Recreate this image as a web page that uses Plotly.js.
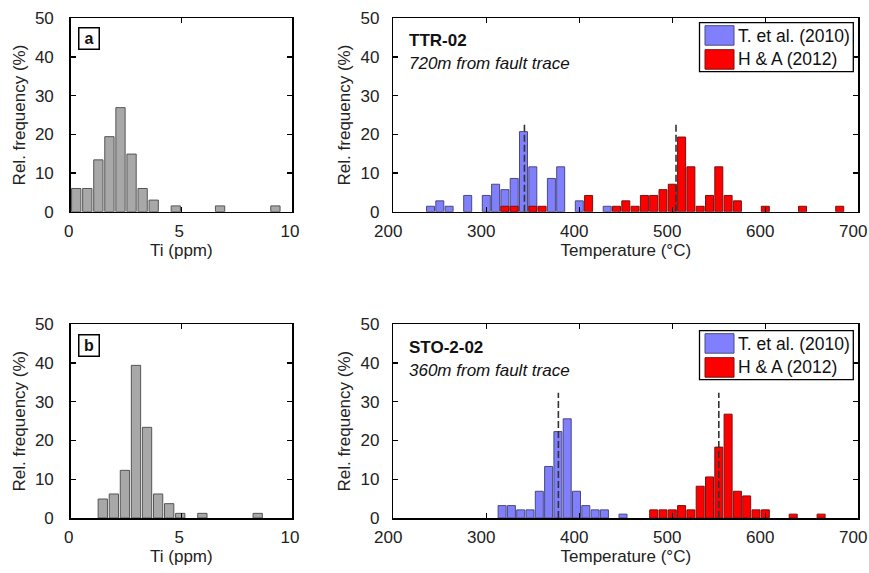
<!DOCTYPE html>
<html><head><meta charset="utf-8">
<script src="https://cdn.plot.ly/plotly-3.0.1.min.js"></script>
<style>html,body{margin:0;padding:0;background:#fff}</style>
</head><body>
<div id="chart" style="width:869px;height:573px"></div>
<script>
// ---- data ----
// panel a (TTR-02): Ti concentration histogram
const tiA_x = [0.25, 0.75, 1.25, 1.75, 2.25, 2.75, 3.25, 3.75, 4.75, 6.75, 9.25];
const tiA_y = [6.0, 6.0, 13.4, 19.4, 26.9, 14.9, 6.0, 3.0, 1.5, 1.5, 1.5];
// panel b (STO-2-02): Ti concentration histogram
const tiB_x = [1.45, 1.95, 2.45, 2.95, 3.45, 3.95, 4.45, 4.95, 5.95, 8.45];
const tiB_y = [4.9, 6.2, 12.3, 39.4, 23.4, 6.2, 3.7, 1.2, 1.2, 1.2];
// TTR-02 temperatures
const ttrT_x = [240, 250, 260, 280, 300, 310, 320, 330, 340, 350, 370, 380, 400, 430];
const ttrT_y = [1.4, 2.8, 1.4, 4.2, 4.2, 7.1, 5.7, 8.6, 20.7, 11.6, 8.6, 11.6, 2.8, 1.4];
const ttrH_x = [320, 330, 350, 360, 410, 440, 450, 460, 470, 480, 490, 500, 510, 520, 530, 540, 550, 560, 570, 600, 640, 680];
const ttrH_y = [1.4, 1.4, 1.4, 1.4, 4.2, 1.4, 2.8, 1.4, 4.2, 4.2, 5.7, 7.1, 19.3, 11.6, 1.4, 4.2, 11.6, 4.2, 2.8, 1.4, 1.4, 1.4];
// STO-2-02 temperatures
const stoT_x = [317, 327, 337, 347, 357, 367, 377, 387, 397, 407, 417, 427, 447];
const stoT_y = [3.2, 3.2, 2.1, 2.1, 6.9, 13.3, 22.3, 25.6, 6.9, 3.2, 2.1, 2.1, 1.0];
const stoH_x = [480, 490, 500, 510, 520, 530, 540, 550, 560, 570, 580, 590, 600, 630, 660];
const stoH_y = [2.1, 2.1, 2.1, 3.2, 2.1, 8.2, 10.6, 18.3, 26.8, 6.9, 5.7, 2.1, 2.1, 1.0, 1.0];
// median markers (x position, top of dashed line in %)
const ttrMed = [341, 504];
const ttrMedTop = 22.6;
const stoMed = [377.5, 550];
const stoMedTop = 32.3;
// text
const seriesNames = ['T. et al. (2010)', 'H & A (2012)'];
const sampleNames = ['TTR-02', 'STO-2-02'];
const distances = ['720m from fault trace', '360m from fault trace'];
const panelLetters = ['a', 'b'];
const yTicks = [0, 10, 20, 30, 40, 50];
const tiTicks = [0, 5, 10];
const tTicks = [200, 300, 400, 500, 600, 700];

// ---- styling ----
const F = 'Liberation Sans, Arial, sans-serif';
const W = 869, H = 573;
const px = v => v / W;
const py = v => 1 - v / H;
const BLUE = '#8080ff', RED = '#ff0000', GRAY = '#a8a8a8';

function bar(x, y, color, line, width, xa, ya, name) {
  return {type: 'bar', x: x, y: y, width: width, xaxis: xa, yaxis: ya, name: name,
    marker: {color: color, line: {color: line, width: 1}}, showlegend: false, hoverinfo: 'x+y'};
}
function med(xv, top, xa, ya) {
  return {type: 'scatter', mode: 'lines', x: [xv, xv], y: [0, top], xaxis: xa, yaxis: ya,
    line: {color: '#333', width: 1.6, dash: '7px,3px'}, showlegend: false, hoverinfo: 'skip'};
}

const data = [
  bar(tiA_x, tiA_y, GRAY, '#555', 0.42, 'x', 'y', 'Ti a'),
  bar(ttrT_x, ttrT_y, BLUE, '#4a4a7a', 8.6, 'x2', 'y2', seriesNames[0]),
  bar(ttrH_x, ttrH_y, RED, '#7a1010', 8.6, 'x2', 'y2', seriesNames[1]),
  med(ttrMed[0], ttrMedTop, 'x2', 'y2'),
  med(ttrMed[1], ttrMedTop, 'x2', 'y2'),
  bar(tiB_x, tiB_y, GRAY, '#555', 0.42, 'x3', 'y3', 'Ti b'),
  bar(stoT_x, stoT_y, BLUE, '#4a4a7a', 8.6, 'x4', 'y4', seriesNames[0]),
  bar(stoH_x, stoH_y, RED, '#7a1010', 8.6, 'x4', 'y4', seriesNames[1]),
  med(stoMed[0], stoMedTop, 'x4', 'y4'),
  med(stoMed[1], stoMedTop, 'x4', 'y4')
];

const base = {showline: true, linecolor: '#000', linewidth: 1.5, mirror: 'allticks',
  ticks: 'inside', ticklen: 5, tickwidth: 1.2, tickcolor: '#000', showgrid: false, zeroline: false,
  tickfont: {family: F, size: 17, color: '#222'}, fixedrange: true, ticklabeloverflow: 'allow'};
function xax(dom, range, ticks, title, anchor, shift) {
  return Object.assign({}, base, {domain: dom, range: range, tickvals: ticks, anchor: anchor,
    ticklabelstandoff: 3, ticklabelshift: shift,
    title: {text: title, font: {family: F, size: 17, color: '#222'}, standoff: 0}});
}
function yax(dom, anchor, so, tso) {
  return Object.assign({}, base, {domain: dom, range: [0, 50], tickvals: yTicks, anchor: anchor,
    ticklabelstandoff: tso,
    title: {text: 'Rel. frequency (%)', font: {family: F, size: 17, color: '#222'}, standoff: so}});
}
const dL = [px(70.7), px(292)], dR = [px(393.3), px(858.3)];
const dTop = [py(211.7), py(18.3)], dBot = [py(518), py(324.3)];

const shapes = [], annotations = [];
function legendAt(top) {
  shapes.push({type: 'rect', xref: 'paper', yref: 'paper', x0: px(699.5), x1: px(853.3), y0: py(top + 49), y1: py(top),
    line: {color: '#000', width: 1.3}, fillcolor: '#fff'});
  shapes.push({type: 'rect', xref: 'paper', yref: 'paper', x0: px(705), x1: px(734), y0: py(top + 22.5), y1: py(top + 3),
    line: {color: '#4a4a7a', width: 1}, fillcolor: BLUE});
  shapes.push({type: 'rect', xref: 'paper', yref: 'paper', x0: px(705), x1: px(734), y0: py(top + 46.5), y1: py(top + 27),
    line: {color: '#7a1010', width: 1}, fillcolor: RED});
  annotations.push({xref: 'paper', yref: 'paper', x: px(736), y: py(top + 13.5), xanchor: 'left', yanchor: 'middle',
    text: seriesNames[0], showarrow: false, font: {family: F, size: 17.5, color: '#111'}});
  annotations.push({xref: 'paper', yref: 'paper', x: px(736), y: py(top + 36.5), xanchor: 'left', yanchor: 'middle',
    text: seriesNames[1], showarrow: false, font: {family: F, size: 17.5, color: '#111'}});
}
legendAt(22.7);
legendAt(330.7);
function sampleLabel(i, yc) {
  annotations.push({xref: 'paper', yref: 'paper', x: px(407), y: py(yc), xanchor: 'left', yanchor: 'middle',
    text: '<b>' + sampleNames[i] + '</b>', showarrow: false, font: {family: F, size: 17, color: '#111'}});
  annotations.push({xref: 'paper', yref: 'paper', x: px(407), y: py(yc + 23), xanchor: 'left', yanchor: 'middle',
    text: '<i>' + distances[i] + '</i>', showarrow: false, font: {family: F, size: 17, color: '#111'}});
}
sampleLabel(0, 40);
sampleLabel(1, 347);
function letter(i, top) {
  annotations.push({xref: 'paper', yref: 'paper', x: px(78.3), y: py(top), xanchor: 'left', yanchor: 'top',
    text: '<b>' + panelLetters[i] + '</b>', showarrow: false, width: 18, height: 19, borderpad: 0.5,
    bordercolor: '#000', borderwidth: 1.5, bgcolor: '#fff', font: {family: F, size: 16, color: '#111'}});
}
letter(0, 26.7);
letter(1, 334);

const layout = {
  width: W, height: H, margin: {l: 0, r: 0, t: 0, b: 0},
  paper_bgcolor: '#fff', plot_bgcolor: '#fff', barmode: 'overlay', bargap: 0,
  showlegend: false,
  xaxis: xax(dL, [0, 10], tiTicks, 'Ti (ppm)', 'y', -2),
  yaxis: yax(dTop, 'x', 5, 12),
  xaxis2: xax(dR, [200, 700], tTicks, 'Temperature (°C)', 'y2', -5),
  yaxis2: yax(dTop, 'x2', 5, 9),
  xaxis3: xax(dL, [0, 10], tiTicks, 'Ti (ppm)', 'y3', -2),
  yaxis3: yax(dBot, 'x3', 5, 12),
  xaxis4: xax(dR, [200, 700], tTicks, 'Temperature (°C)', 'y4', -5),
  yaxis4: yax(dBot, 'x4', 5, 9),
  shapes: shapes,
  annotations: annotations
};
Plotly.newPlot('chart', data, layout, {displayModeBar: false, staticPlot: true});
</script>
</body></html>
